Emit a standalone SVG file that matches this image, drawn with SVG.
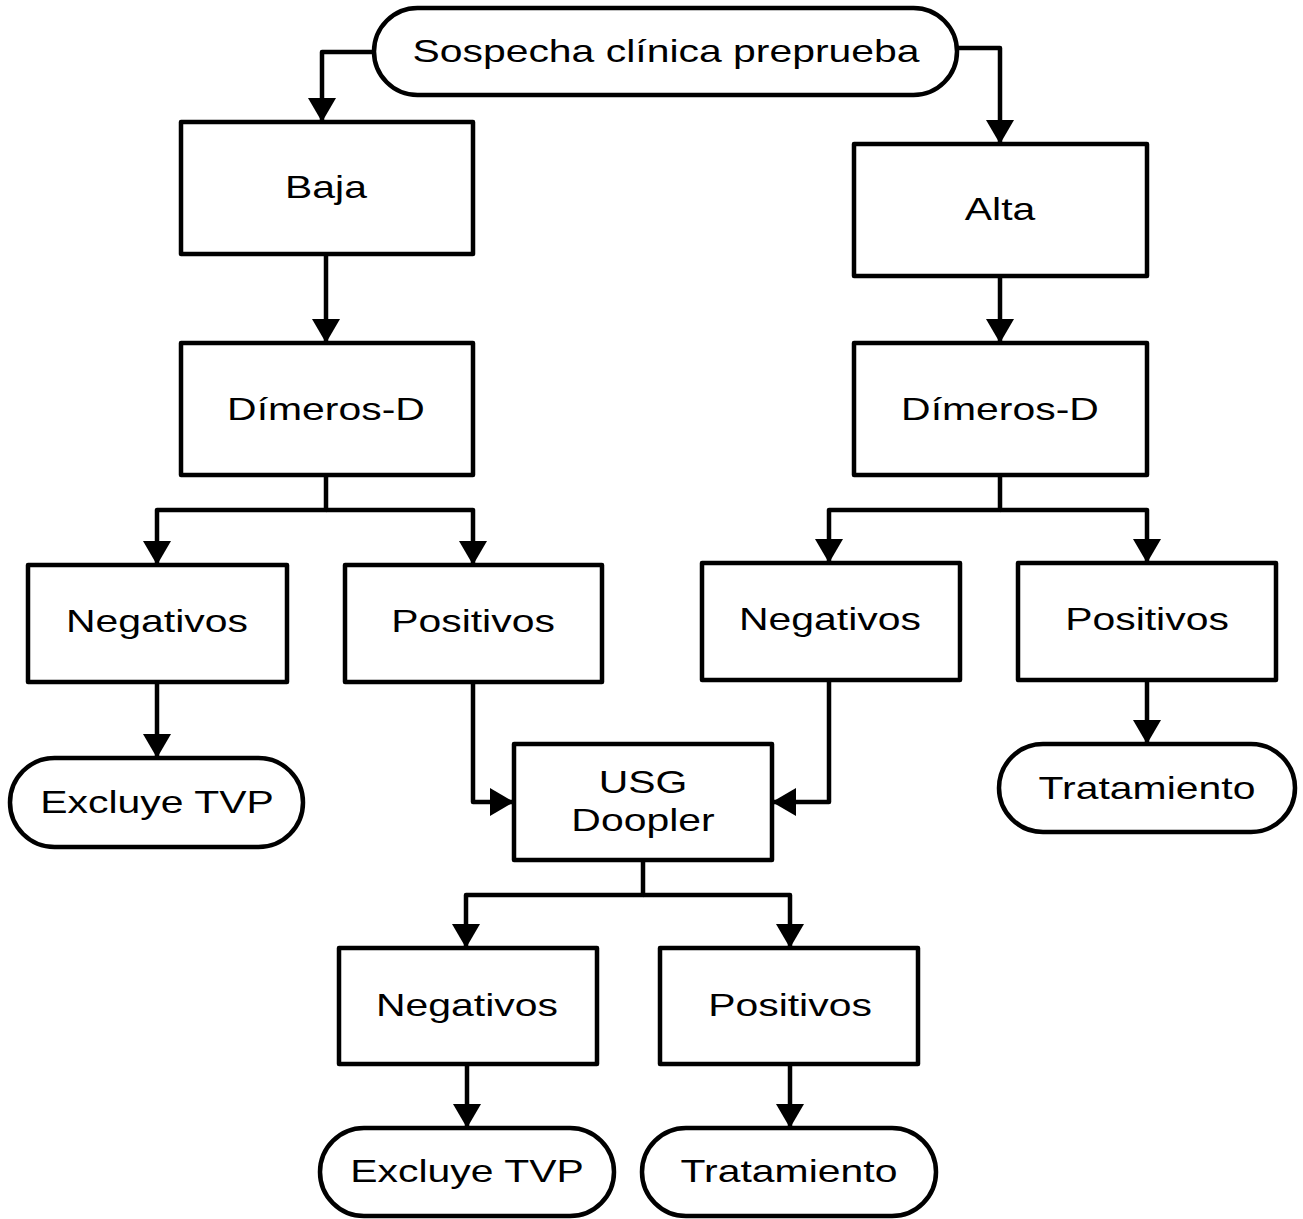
<svg xmlns="http://www.w3.org/2000/svg" width="1303" height="1219" viewBox="0 0 1303 1219">
<style>
.n{fill:#fff;stroke:#000;stroke-width:4.5;stroke-linejoin:round}
.t{font-family:"Liberation Sans",Arial,sans-serif;font-size:31px;fill:#000;text-anchor:middle}
.c{fill:none;stroke:#000;stroke-width:4.5;stroke-linejoin:round}
</style>
<defs>
<marker id="ah" markerUnits="userSpaceOnUse" markerWidth="26" markerHeight="30" refX="24" refY="14" orient="auto">
<path d="M0,0 L24,14 L0,28 Z" fill="#000"/>
</marker>
</defs>
<rect width="1303" height="1219" fill="#fff"/>
<g id="connectors">
<path class="c" d="M374,52 H322 V122" marker-end="url(#ah)"/>
<path class="c" d="M957,48 H1000 V144" marker-end="url(#ah)"/>
<path class="c" d="M326,254 V343" marker-end="url(#ah)"/>
<path class="c" d="M1000,276 V343" marker-end="url(#ah)"/>
<path class="c" d="M326,475 V510 H157 V565" marker-end="url(#ah)"/>
<path class="c" d="M326,510 H473 V565" marker-end="url(#ah)"/>
<path class="c" d="M1000,475 V510 H829 V563" marker-end="url(#ah)"/>
<path class="c" d="M1000,510 H1147 V563" marker-end="url(#ah)"/>
<path class="c" d="M157,682 V758" marker-end="url(#ah)"/>
<path class="c" d="M473,682 V802 H514" marker-end="url(#ah)"/>
<path class="c" d="M829,680 V802 H772" marker-end="url(#ah)"/>
<path class="c" d="M1147,680 V744" marker-end="url(#ah)"/>
<path class="c" d="M643,860 V895 H466 V948" marker-end="url(#ah)"/>
<path class="c" d="M643,895 H790 V948" marker-end="url(#ah)"/>
<path class="c" d="M467,1064 V1128" marker-end="url(#ah)"/>
<path class="c" d="M790,1064 V1128" marker-end="url(#ah)"/>
</g>
<g id="sospecha"><rect class="n" x="374" y="8" width="583" height="87" rx="43.5"/><text class="t" transform="translate(666,62) scale(1.32,1)">Sospecha clínica preprueba</text></g>
<g id="baja"><rect class="n" x="181" y="122" width="292" height="132"/><text class="t" transform="translate(326,198) scale(1.32,1)">Baja</text></g>
<g id="alta"><rect class="n" x="854" y="144" width="293" height="132"/><text class="t" transform="translate(1000,220) scale(1.32,1)">Alta</text></g>
<g id="dimeros-l"><rect class="n" x="181" y="343" width="292" height="132"/><text class="t" transform="translate(326,420) scale(1.32,1)">Dímeros-D</text></g>
<g id="dimeros-r"><rect class="n" x="854" y="343" width="293" height="132"/><text class="t" transform="translate(1000,420) scale(1.32,1)">Dímeros-D</text></g>
<g id="neg-l"><rect class="n" x="28" y="565" width="259" height="117"/><text class="t" transform="translate(157,632) scale(1.32,1)">Negativos</text></g>
<g id="pos-l"><rect class="n" x="345" y="565" width="257" height="117"/><text class="t" transform="translate(473,632) scale(1.32,1)">Positivos</text></g>
<g id="neg-r"><rect class="n" x="702" y="563" width="258" height="117"/><text class="t" transform="translate(830,630) scale(1.32,1)">Negativos</text></g>
<g id="pos-r"><rect class="n" x="1018" y="563" width="258" height="117"/><text class="t" transform="translate(1147,630) scale(1.32,1)">Positivos</text></g>
<g id="excluye-l"><rect class="n" x="10" y="758" width="293" height="89" rx="44.5"/><text class="t" transform="translate(157,813) scale(1.32,1)">Excluye TVP</text></g>
<g id="usg"><rect class="n" x="514" y="744" width="258" height="116"/><text class="t" transform="translate(643,793) scale(1.32,1)">USG</text><text class="t" transform="translate(643,831) scale(1.32,1)">Doopler</text></g>
<g id="trat-r"><rect class="n" x="999" y="744" width="296" height="88" rx="44"/><text class="t" transform="translate(1147,799) scale(1.32,1)">Tratamiento</text></g>
<g id="neg-b"><rect class="n" x="339" y="948" width="258" height="116"/><text class="t" transform="translate(467,1016) scale(1.32,1)">Negativos</text></g>
<g id="pos-b"><rect class="n" x="660" y="948" width="258" height="116"/><text class="t" transform="translate(790,1016) scale(1.32,1)">Positivos</text></g>
<g id="excluye-b"><rect class="n" x="320" y="1128" width="294" height="88" rx="44"/><text class="t" transform="translate(467,1182) scale(1.32,1)">Excluye TVP</text></g>
<g id="trat-b"><rect class="n" x="642" y="1128" width="294" height="88" rx="44"/><text class="t" transform="translate(789,1182) scale(1.32,1)">Tratamiento</text></g>
</svg>
